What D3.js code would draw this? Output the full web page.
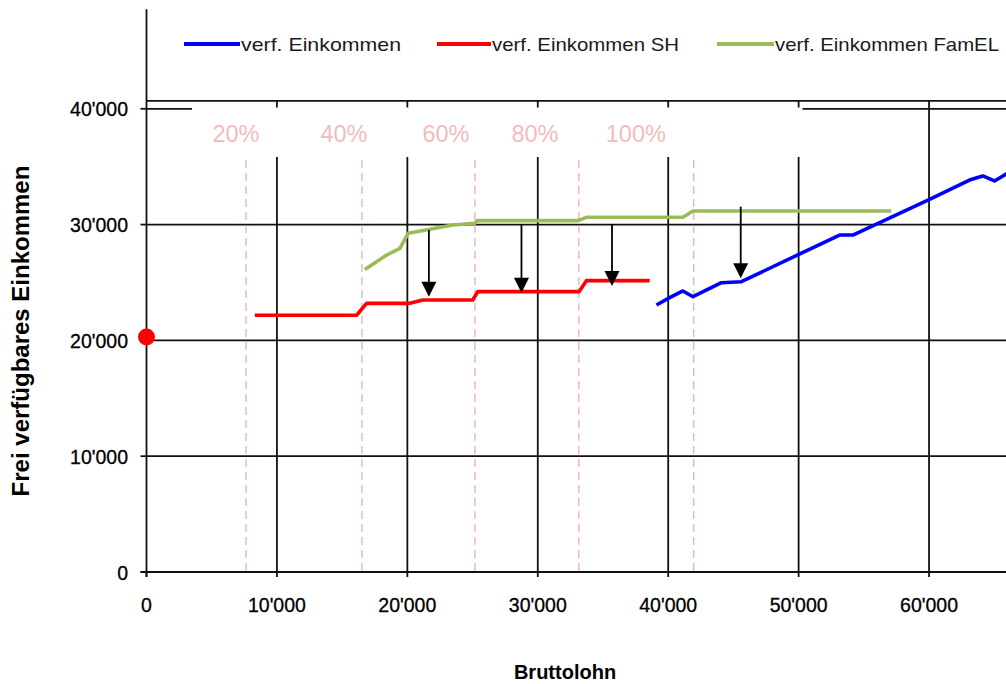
<!DOCTYPE html>
<html>
<head>
<meta charset="utf-8">
<script src="https://cdn.jsdelivr.net/npm/d3@7"></script>
<style>
  html, body { margin: 0; padding: 0; background: #fff; }
  svg { display: block; font-family: "Liberation Sans", Arial, sans-serif; }
</style>
</head>
<body>
<svg id="chart" width="1006" height="684"></svg>
<script>
// Bruttolohn (x) / frei verfügbares Einkommen (y), CHF
const seriesNames = ["verf. Einkommen", "verf. Einkommen SH", "verf. Einkommen FamEL"];
const seriesColors = ["#0000ff", "#ff0000", "#9bbb59"];

const blueX = [39100, 40110, 41130, 41900, 44080, 45610, 53140, 54160, 60040, 63100, 64120, 65020, 66200];
const blueY = [23060, 23690, 24270, 23770, 24980, 25070, 29100, 29100, 32180, 33850, 34200, 33770, 34550];

const redX = [8310, 16110, 16870, 20190, 21190, 25020, 25400, 33160, 33730, 38580];
const redY = [22170, 22170, 23200, 23200, 23490, 23490, 24210, 24210, 25160, 25160];

const greenX = [16740, 18410, 19430, 20060, 23490, 25170, 25350, 33090, 33730, 41130, 41900, 57100];
const greenY = [26120, 27370, 27950, 29250, 29970, 30110, 30340, 30340, 30630, 30630, 31170, 31170];

// Sozialhilfe-Grenze bei 0 Bruttolohn
const startX = [0];
const startY = [20300];

// Einkommensschwellen (gestrichelt) und Beschriftung
const thresholdX = [7630, 16520, 25180, 33150, 41960];
const pctLabels = ["20%", "40%", "60%", "80%", "100%"];
const pctLabelAt = [6860, 15140, 22960, 29780, 37520];

// Pfeile: Bruttolohn, von, bis
const arrowX = [21650, 28750, 35690, 45560];
const arrowFrom = [29530, 30050, 30050, 31550];
const arrowTo = [23770, 24120, 24700, 25360];

const xTicks = [0, 10000, 20000, 30000, 40000, 50000, 60000];
const yTicks = [0, 10000, 20000, 30000, 40000];
const xTitle = "Bruttolohn";
const yTitle = "Frei verfügbares Einkommen";

const W = 1006, H = 684;
const svg = d3.select("#chart");

const x = d3.scaleLinear().domain([0, 65900]).range([146.5, 1006]);
const y = d3.scaleLinear().domain([0, 48600]).range([572, 9.2]);
const fmt = v => d3.format(",")(v).replace(/,/g, "'");

// Gitternetz
const grid = svg.append("g").attr("stroke", "#111").attr("stroke-width", 1.8);
grid.selectAll(".gy").data(yTicks.filter(d => d > 0)).join("line")
  .attr("x1", x(0)).attr("x2", W)
  .attr("y1", d => y(d)).attr("y2", d => y(d));
grid.selectAll(".gx").data(xTicks.filter(d => d > 0)).join("line")
  .attr("x1", d => x(d)).attr("x2", d => x(d))
  .attr("y1", y(0)).attr("y2", y.range()[1]);

// Legendenfeld oben
svg.append("rect").attr("x", x(0) + 0.9).attr("y", -2).attr("width", W).attr("height", 102.5)
  .attr("fill", "#fff");
svg.append("line").attr("x1", x(0)).attr("x2", W).attr("y1", 100.8).attr("y2", 100.8)
  .attr("stroke", "#111").attr("stroke-width", 1.8);

// Textfeld für Prozentangaben
svg.append("rect").attr("x", 192).attr("y", 107.5).attr("width", 610.5).attr("height", 49.5)
  .attr("fill", "#fff");
svg.append("g").selectAll("text").data(pctLabels).join("text")
  .attr("x", (d, i) => x(pctLabelAt[i]))
  .attr("y", 142)
  .attr("text-anchor", "middle")
  .attr("font-size", 23.5)
  .attr("fill", "#f0bcbc")
  .text(d => d);

// Schwellen
svg.append("g").selectAll("line").data(thresholdX).join("line")
  .attr("x1", d => x(d)).attr("x2", d => x(d))
  .attr("y1", 160).attr("y2", y(0))
  .attr("stroke", "#eaa8a8").attr("stroke-width", 1.2)
  .attr("stroke-dasharray", "8,5");

// Achsen
const axes = svg.append("g").attr("stroke", "#111").attr("stroke-width", 1.8);
axes.append("line").attr("x1", x(0)).attr("x2", x(0)).attr("y1", y(0) + 5).attr("y2", y.range()[1]);
axes.append("line").attr("x1", x(0) - 6).attr("x2", W).attr("y1", y(0)).attr("y2", y(0));
axes.selectAll(".ty").data(yTicks).join("line")
  .attr("x1", x(0) - 6).attr("x2", x(0)).attr("y1", d => y(d)).attr("y2", d => y(d));
axes.selectAll(".tx").data(xTicks).join("line")
  .attr("x1", d => x(d)).attr("x2", d => x(d)).attr("y1", y(0)).attr("y2", y(0) + 5);

svg.append("g").selectAll("text").data(yTicks).join("text")
  .attr("x", 128).attr("y", d => y(d) + 7.5)
  .attr("text-anchor", "end").attr("font-size", 19.5).attr("fill", "#000")
  .attr("stroke", "#000").attr("stroke-width", 0.3)
  .text(fmt);
svg.append("g").selectAll("text").data(xTicks).join("text")
  .attr("x", d => x(d)).attr("y", 612)
  .attr("text-anchor", "middle").attr("font-size", 19.5).attr("fill", "#000")
  .attr("stroke", "#000").attr("stroke-width", 0.3)
  .text(fmt);

svg.append("text").attr("transform", "translate(29,331) rotate(-90)")
  .attr("text-anchor", "middle").attr("font-size", 24).attr("font-weight", "bold")
  .attr("fill", "#000").text(yTitle);
svg.append("text").attr("x", 565).attr("y", 679)
  .attr("text-anchor", "middle").attr("font-size", 20).attr("font-weight", "bold")
  .attr("fill", "#000").text(xTitle);

// Linien
const line = d3.line().x(d => x(d[0])).y(d => y(d[1]));
const series = [
  d3.zip(blueX, blueY),
  d3.zip(redX, redY),
  d3.zip(greenX, greenY)
];
svg.append("defs").append("clipPath").attr("id", "plot")
  .append("rect").attr("x", x(0)).attr("y", 0).attr("width", W - x(0)).attr("height", y(0));
const lines = svg.append("g").attr("clip-path", "url(#plot)");
// draw order: green, red, blue
[2, 1, 0].forEach(i => {
  lines.append("path").datum(series[i])
    .attr("d", line)
    .attr("fill", "none")
    .attr("stroke", seriesColors[i])
    .attr("stroke-width", 3.6)
    .attr("stroke-linejoin", "round");
});

// Pfeile
const arrows = svg.append("g");
arrowX.forEach((ax, i) => {
  const px = x(ax), y0 = y(arrowFrom[i]), y1 = y(arrowTo[i]);
  arrows.append("line").attr("x1", px).attr("x2", px).attr("y1", y0).attr("y2", y1 - 12)
    .attr("stroke", "#000").attr("stroke-width", 1.8);
  arrows.append("path")
    .attr("d", `M${px - 7.5},${y1 - 15} L${px + 7.5},${y1 - 15} L${px},${y1} Z`)
    .attr("fill", "#000");
});

// Startpunkt
svg.append("g").selectAll("circle").data(d3.zip(startX, startY)).join("circle")
  .attr("cx", d => x(d[0])).attr("cy", d => y(d[1])).attr("r", 8.5)
  .attr("fill", "#ff0000");

// Legende
const legendLine = [[184, 240], [437, 491], [717, 774]];
const legendTextLen = [160, 187, 224];
const legend = svg.append("g");
seriesNames.forEach((name, i) => {
  legend.append("line")
    .attr("x1", legendLine[i][0]).attr("x2", legendLine[i][1])
    .attr("y1", 44).attr("y2", 44)
    .attr("stroke", seriesColors[i]).attr("stroke-width", 4);
  legend.append("text")
    .attr("x", legendLine[i][1] + 1).attr("y", 51)
    .attr("font-size", 19).attr("fill", "#1a1a1a")
    .attr("textLength", legendTextLen[i]).attr("lengthAdjust", "spacingAndGlyphs")
    .text(name);
});
</script>
</body>
</html>
